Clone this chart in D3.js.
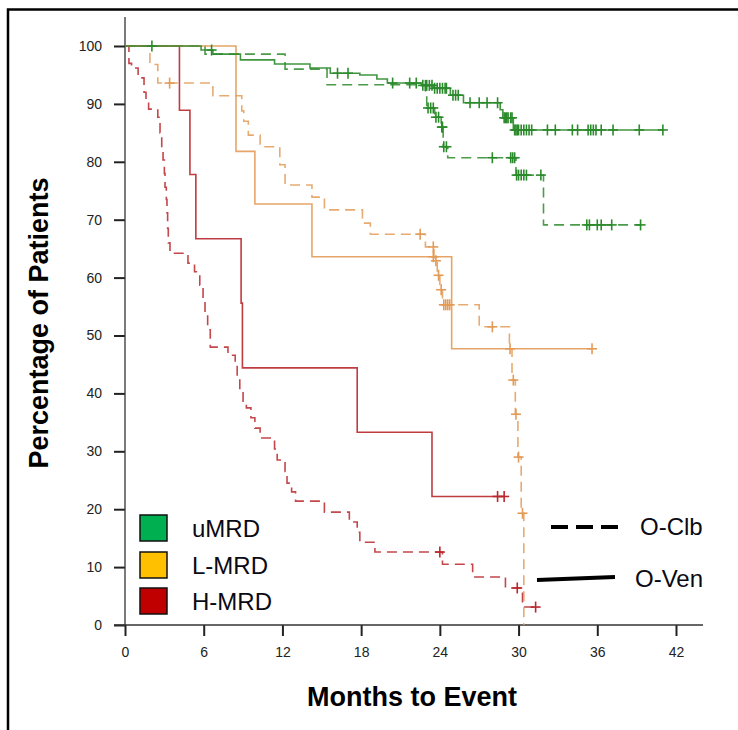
<!DOCTYPE html>
<html>
<head>
<meta charset="utf-8">
<script src="https://cdn.jsdelivr.net/npm/d3@7"></script>
<style>
  html, body { margin: 0; padding: 0; background: #fff; }
  svg { display: block; font-family: "Liberation Sans", Arial, Helvetica, sans-serif; }
</style>
</head>
<body>
<svg id="chart" width="738" height="730"></svg>
<script>
// ---------- data ----------
const monthTicks = [0, 6, 12, 18, 24, 30, 36, 42];
const pctTicks = [0, 10, 20, 30, 40, 50, 60, 70, 80, 90, 100];

const groupNames = ["uMRD", "L-MRD", "H-MRD"];
const armNames = ["O-Clb", "O-Ven"];

// uMRD, O-Ven (solid green)
const umrdVenTimes = [5.8, 6.7, 8.8, 11.4, 14.1, 15.65, 17.9, 19.2, 20.0, 22.6, 23.5, 24.8, 25.8, 28.6, 28.8, 29.6];
const umrdVenSurv  = [99.3, 98.6, 97.6, 96.9, 96.2, 95.3, 95.0, 94.3, 93.6, 93.2, 92.7, 91.5, 90.2, 89.0, 87.6, 85.5];
const umrdVenCens  = [2.05, 6.6, 16.2, 17.0, 20.4, 21.7, 22.2, 22.7, 22.9, 23.0, 23.2, 23.4, 23.6, 23.8, 24.0, 24.2, 24.4, 24.5,
                      25.0, 25.2, 25.4, 26.3, 27.0, 27.6, 28.4, 28.9, 29.0, 29.1, 29.2, 29.4, 29.5, 29.7, 29.8, 29.9, 30.0,
                      30.2, 30.4, 30.6, 30.8, 31.0, 32.2, 32.8, 34.1, 34.5, 35.3, 35.5, 35.7, 35.9, 36.3, 37.2, 39.2, 41.0];

// uMRD, O-Clb (dashed green)
const umrdClbTimes = [6.1, 12.2, 15.4, 22.9, 23.0, 23.6, 24.1, 24.25, 24.6, 29.8, 31.9];
const umrdClbSurv  = [98.6, 96.0, 93.3, 91.5, 89.3, 87.7, 86.0, 82.6, 80.7, 77.7, 69.1];
const umrdClbCens  = [23.1, 23.3, 23.5, 23.7, 23.9, 24.15, 24.2, 24.3, 24.5, 28.0, 29.4, 29.55, 29.7, 29.85, 30.0, 30.2,
                      30.4, 30.6, 31.7, 35.2, 35.4, 36.0, 36.3, 37.1, 39.3];

// L-MRD, O-Ven (solid orange)
const lmrdVenTimes = [8.46, 9.9, 14.25, 24.9];
const lmrdVenSurv  = [81.8, 72.7, 63.6, 47.7];
const lmrdVenCens  = [23.5, 35.6];

// L-MRD, O-Clb (dashed orange)
const lmrdClbTimes = [1.9, 2.5, 6.7, 8.9, 9.05, 9.4, 10.3, 11.8, 12.2, 14.25, 15.2, 18.1, 18.7, 22.9, 23.55, 23.8, 24.0,
                      24.2, 27.0, 29.3, 29.5, 29.75, 29.95, 30.2, 30.4];
const lmrdClbSurv  = [96.8, 93.6, 91.4, 88.8, 87.0, 84.6, 82.6, 79.5, 76.0, 73.9, 71.7, 69.4, 67.5, 65.3, 62.9, 60.4, 57.9,
                      55.3, 51.5, 47.7, 42.3, 36.4, 29.0, 19.3, 0];
const lmrdClbCens  = [3.4, 22.5, 23.5, 23.7, 23.9, 24.1, 24.3, 24.45, 24.6, 24.75, 28.0, 29.35, 29.6, 29.8, 30.0, 30.3];

// H-MRD, O-Ven (solid red)
const hmrdVenTimes = [4.15, 4.95, 5.4, 8.85, 8.95, 17.7, 23.4];
const hmrdVenSurv  = [88.9, 77.8, 66.7, 55.6, 44.4, 33.3, 22.2];
const hmrdVenCens  = [28.4, 28.9];

// H-MRD, O-Clb (dashed red)
const hmrdClbTimes = [0.3, 0.5, 1.0, 1.45, 1.6, 1.8, 2.5, 2.67, 2.8, 2.9, 3.0, 3.05, 3.15, 3.2, 3.25, 3.3, 3.43, 4.8, 5.3,
                      5.7, 5.95, 6.1, 6.3, 6.5, 7.85, 8.4, 8.55, 8.75, 9.0, 9.25, 9.6, 9.9, 10.3, 11.4, 11.6, 12.2, 12.35,
                      12.7, 13.0, 15.2, 17.1, 17.7, 17.9, 19.05, 24.2, 26.5, 29.0, 30.3];
const hmrdClbSurv  = [97.0, 96.2, 94.5, 92.0, 90.5, 89.1, 87.7, 85.0, 82.5, 80.3, 78.0, 75.6, 73.5, 71.2, 68.5, 66.0, 64.2,
                      62.5, 61.0, 58.7, 56.0, 53.5, 51.0, 48.0, 46.6, 45.0, 43.0, 40.3, 38.5, 37.5, 35.8, 34.0, 32.3, 30.4,
                      28.5, 26.5, 24.5, 23.0, 21.4, 19.5, 17.8, 16.0, 14.3, 12.6, 10.5, 8.3, 6.4, 3.1];
const hmrdClbCens  = [24.0, 29.9, 31.3];

// ---------- styling ----------
const lineColors = { "uMRD": "#2b8a2b", "L-MRD": "#e39b58", "H-MRD": "#b8272c" };
const legendFill = { "uMRD": "#00b050", "L-MRD": "#ffc000", "H-MRD": "#c00000" };

const curves = [
  { group: "H-MRD", arm: "O-Clb", t: hmrdClbTimes, s: hmrdClbSurv, c: hmrdClbCens },
  { group: "L-MRD", arm: "O-Clb", t: lmrdClbTimes, s: lmrdClbSurv, c: lmrdClbCens },
  { group: "uMRD",  arm: "O-Clb", t: umrdClbTimes, s: umrdClbSurv, c: umrdClbCens },
  { group: "H-MRD", arm: "O-Ven", t: hmrdVenTimes, s: hmrdVenSurv, c: hmrdVenCens },
  { group: "L-MRD", arm: "O-Ven", t: lmrdVenTimes, s: lmrdVenSurv, c: lmrdVenCens },
  { group: "uMRD",  arm: "O-Ven", t: umrdVenTimes, s: umrdVenSurv, c: umrdVenCens },
];

// ---------- chart ----------
const svg = d3.select("#chart");
const x = d3.scaleLinear().domain([0, 42]).range([125, 676]);
const y = d3.scaleLinear().domain([0, 100]).range([625, 46]);

// frame
svg.append("path")
  .attr("d", "M8,730 V9.5 H738")
  .attr("fill", "none").attr("stroke", "#000").attr("stroke-width", 2.5);

// axes
const yAxis = d3.axisLeft(y).tickValues(pctTicks).tickSize(11).tickPadding(12).tickSizeOuter(0);
const gy = svg.append("g").attr("transform", "translate(125,0)").call(yAxis);
gy.select(".domain").remove();
gy.selectAll(".tick line").attr("stroke", "#222").attr("stroke-width", 2);
gy.selectAll(".tick text").attr("font-size", 14).attr("fill", "#222")
  .attr("font-family", "'Liberation Sans', Arial, sans-serif");
svg.append("line").attr("x1", 125).attr("x2", 125).attr("y1", 17).attr("y2", 625)
  .attr("stroke", "#333").attr("stroke-width", 1.3);

const xAxis = d3.axisBottom(x).tickValues(monthTicks).tickSize(11).tickPadding(11).tickSizeOuter(0);
const gx = svg.append("g").attr("transform", "translate(0,625)").call(xAxis);
gx.select(".domain").remove();
gx.selectAll(".tick line").attr("stroke", "#222").attr("stroke-width", 2);
gx.selectAll(".tick text").attr("font-size", 14).attr("fill", "#222")
  .attr("font-family", "'Liberation Sans', Arial, sans-serif");
svg.append("line").attr("x1", 114).attr("x2", 703).attr("y1", 625).attr("y2", 625)
  .attr("stroke", "#333").attr("stroke-width", 1.5);

// KM curves
function stepPoints(cv) {
  const pts = [[0, 100]];
  let prev = 100;
  cv.t.forEach((t, i) => { pts.push([t, prev]); pts.push([t, cv.s[i]]); prev = cv.s[i]; });
  const last = Math.max(cv.t[cv.t.length - 1], d3.max(cv.c) || 0);
  if (prev > 0) pts.push([last, prev]);
  return pts;
}
function survAt(cv, t) {
  const i = d3.bisectRight(cv.t, t);
  return i === 0 ? 100 : cv.s[i - 1];
}
const line = d3.line().x(d => x(d[0])).y(d => y(d[1]));

const plot = svg.append("g");
curves.forEach(cv => {
  const col = lineColors[cv.group];
  const dashed = cv.arm === "O-Clb";
  plot.append("path")
    .attr("d", line(stepPoints(cv)))
    .attr("fill", "none")
    .attr("stroke", col)
    .attr("stroke-width", 1.6)
    .attr("stroke-opacity", dashed ? 0.85 : 0.9)
    .attr("stroke-dasharray", dashed ? "10,6" : null);
  const g = plot.append("g").attr("stroke", col).attr("stroke-width", 1.6);
  cv.c.forEach(ct => {
    const cx = x(ct), cy = y(survAt(cv, ct));
    g.append("line").attr("x1", cx - 5).attr("x2", cx + 5).attr("y1", cy).attr("y2", cy);
    g.append("line").attr("x1", cx).attr("x2", cx).attr("y1", cy - 5.5).attr("y2", cy + 5.5);
  });
});

// axis titles
svg.append("text")
  .attr("transform", "translate(48,323) rotate(-90)")
  .attr("text-anchor", "middle")
  .attr("font-size", 27).attr("font-weight", "bold").attr("fill", "#000")
  .text("Percentage of Patients");
svg.append("text")
  .attr("x", 412).attr("y", 706)
  .attr("text-anchor", "middle")
  .attr("font-size", 27).attr("font-weight", "bold").attr("fill", "#000")
  .text("Months to Event");

// group legend
const legY = [515, 552, 588];
groupNames.forEach((gname, i) => {
  svg.append("rect")
    .attr("x", 140).attr("y", legY[i]).attr("width", 27).attr("height", 26)
    .attr("fill", legendFill[gname]).attr("stroke", "#111").attr("stroke-width", 1.5);
  svg.append("text")
    .attr("x", 192).attr("y", legY[i] + 22)
    .attr("font-size", 24).attr("fill", "#0a0a14")
    .text(gname);
});

// arm legend
svg.append("line").attr("x1", 551).attr("x2", 624).attr("y1", 527).attr("y2", 527)
  .attr("stroke", "#000").attr("stroke-width", 4).attr("stroke-dasharray", "17,8");
svg.append("text").attr("x", 640).attr("y", 535).attr("font-size", 24).attr("fill", "#0a0a14").text(armNames[0]);
svg.append("line").attr("x1", 537).attr("x2", 615).attr("y1", 580).attr("y2", 577)
  .attr("stroke", "#000").attr("stroke-width", 4);
svg.append("text").attr("x", 635).attr("y", 587).attr("font-size", 24).attr("fill", "#0a0a14").text(armNames[1]);
</script>
</body>
</html>
